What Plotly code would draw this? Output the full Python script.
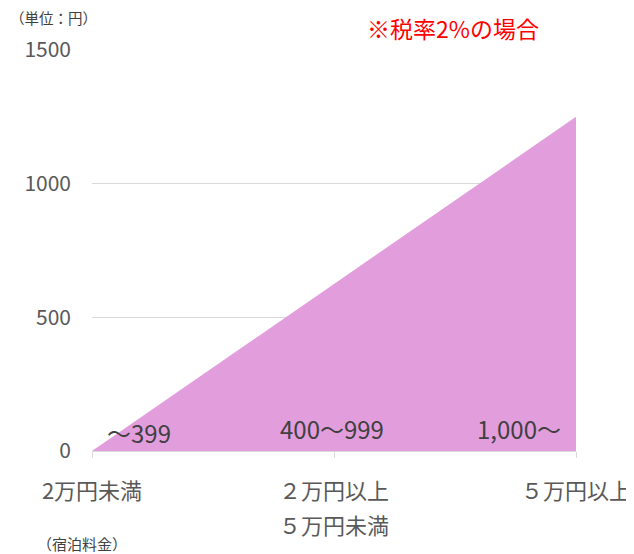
import plotly.graph_objects as go

categories = ["2万円未満", "２万円以上\n５万円未満", "５万円以上"]
values = [0, 625, 1250]
band_labels = ["～399", "400～999", "1,000～"]
y_ticks = [0, 500, 1000, 1500]

FONT = "Noto Sans CJK JP"
xs = list(range(len(categories)))
first_lines = [c.split("\n")[0] for c in categories]
second_lines = [c.split("\n")[1] if "\n" in c else "" for c in categories]

fig = go.Figure()
fig.add_trace(go.Scatter(
    x=xs, y=values, mode="none", fill="tozeroy",
    fillcolor="#E29EDC", hoverinfo="skip", showlegend=False,
))

# labels inside the area
anchors = ["left", "center", "right"]
xshifts = [13, -2, -13]
yshifts = [19, 23, 23]
for i, lab in enumerate(band_labels):
    fig.add_annotation(x=xs[i], y=0, text=lab, showarrow=False,
                       xanchor=anchors[i], yanchor="middle",
                       xshift=xshifts[i], yshift=yshifts[i],
                       font=dict(family=FONT, size=24, color="#404040"))

# second line of multi-line category labels
for i, s in enumerate(second_lines):
    if s:
        fig.add_annotation(x=xs[i], xref="x", yref="paper", y=0, text=s,
                           showarrow=False, xanchor="center", yanchor="middle",
                           yshift=-73,
                           font=dict(family=FONT, size=22, color="#595959"))

fig.add_annotation(xref="paper", yref="paper", x=0.928, y=1.0, text="※税率2%の場合",
                   showarrow=False, xanchor="right", yanchor="middle", yshift=22,
                   font=dict(family=FONT, size=23, color="#FF0000"))
fig.add_annotation(xref="paper", yref="paper", x=-0.1736, y=1.0, text="（単位：円）",
                   showarrow=False, xanchor="left", yanchor="middle", yshift=33,
                   font=dict(family=FONT, size=14.5, color="#404040"))
fig.add_annotation(xref="paper", yref="paper", x=-0.118, y=0, text="（宿泊料金）",
                   showarrow=False, xanchor="left", yanchor="middle", yshift=-92,
                   font=dict(family=FONT, size=15, color="#404040"))

# page body has an 8px default margin, so the figure is sized to fit the window
fig.update_layout(
    width=626, height=546,
    margin=dict(l=84, r=58, t=42, b=103),
    plot_bgcolor="white", paper_bgcolor="white",
    font=dict(family=FONT, color="#595959"),
    xaxis=dict(
        range=[0, 2], tickvals=xs, ticktext=first_lines,
        showgrid=False, zeroline=False, automargin=False,
        showline=True, linecolor="#D9D9D9", linewidth=1,
        ticks="outside", ticklen=6, tickcolor="#D9D9D9",
        tickfont=dict(family=FONT, size=22, color="#595959"),
        ticklabelstandoff=15,
    ),
    yaxis=dict(
        range=[0, 1500], tickvals=y_ticks, automargin=False,
        showgrid=True, gridcolor="#D9D9D9", gridwidth=1,
        zeroline=False, showline=False,
        tickfont=dict(family=FONT, size=21, color="#595959"),
        ticklabelstandoff=20,
    ),
)

fig.write_html("out.html")
